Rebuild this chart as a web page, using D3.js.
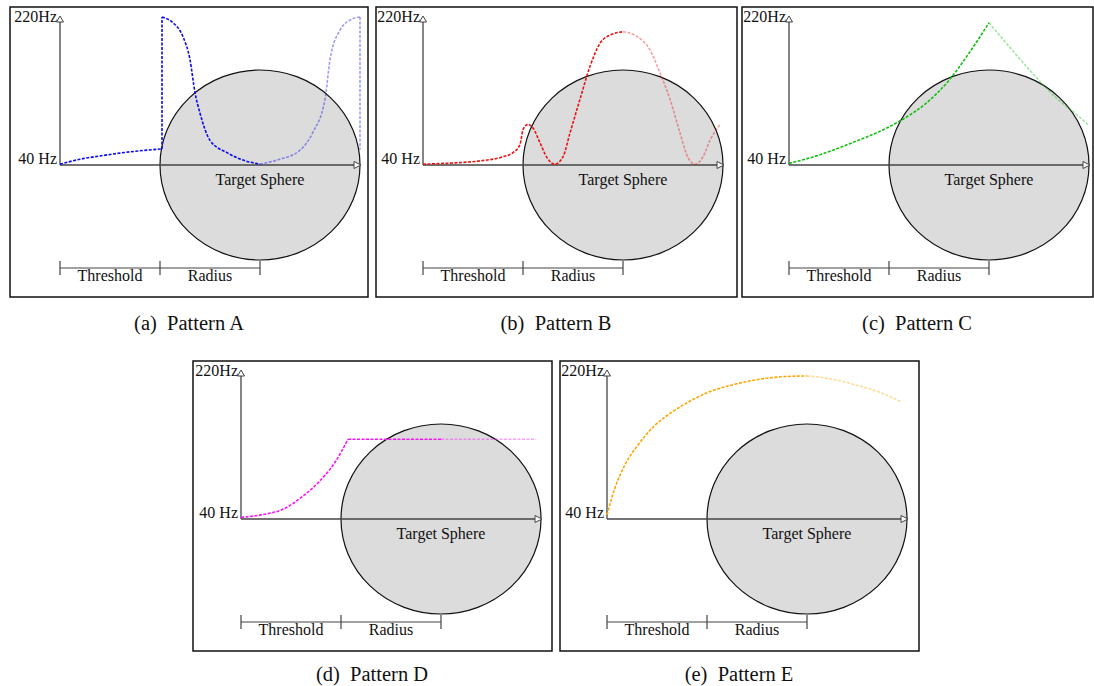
<!DOCTYPE html>
<html>
<head>
<meta charset="utf-8">
<script src="https://cdn.jsdelivr.net/npm/d3@7/dist/d3.min.js"></script>
<style>
  html, body { margin: 0; padding: 0; background: #fff; }
  svg { display: block; }
</style>
</head>
<body>
<svg id="chart" width="1094" height="686"></svg>
<script>
// ---- data: [distance (threshold/radius units), frequency Hz] ----
const freqTicks = ["220Hz", "40 Hz"];
const freqRange = [40, 220];
const rulerLabels = ["Threshold", "Radius"];
const sphereLabel = "Target Sphere";
const captions = ["(a)  Pattern A", "(b)  Pattern B", "(c)  Pattern C", "(d)  Pattern D", "(e)  Pattern E"];
const colors = ["#0a0af0", "#ee1111", "#10c010", "#ff10ff", "#ffa500"];

const patternA = [[0,41],[0.2,47],[0.4,51],[0.7,56],[1.02,59.5],[1.02,220],[1.13,213],[1.23,196],[1.30,168],
  [1.35,128],[1.40,103],[1.50,70],[1.67,55],[1.83,46],[2.0,41],[2.17,46],[2.4,58],[2.53,80],[2.65,120],
  [2.70,168],[2.80,204],[2.93,218],[3.0,220],[3.0,59]];
const patternB = [[0,41],[0.3,42.5],[0.57,45],[0.8,50],[0.9,55],[0.97,65],[1.0,83],[1.05,89.5],[1.10,85],
  [1.17,67],[1.24,49],[1.32,41],[1.40,50],[1.47,79],[1.57,120],[1.67,160],[1.77,188],[1.87,198],[2.0,202],
  [2.13,197],[2.27,180],[2.37,152],[2.47,120],[2.57,79],[2.65,49],[2.72,41],[2.8,50],[2.87,70],[2.97,89]];
const patternC = [[0,42],[0.3,52],[0.63,67],[0.9,80.5],[1.13,95],[1.37,115],[1.6,143],[1.8,176],[2.0,213],
  [2.23,180],[2.47,147],[2.66,123],[2.86,103],[2.99,89]];
const patternD = [[0,42],[0.2,45],[0.44,53],[0.6,66],[0.77,84],[0.94,109],[1.07,137],[2.0,137],[2.95,137]];
const patternE = [[0,45],[0.08,78],[0.18,106],[0.31,130],[0.48,154],[0.65,170],[0.81,182],[1.01,194],
  [1.25,203],[1.48,209],[1.75,213],[2.0,214],[2.21,211],[2.49,203],[2.75,193],[2.95,182]];
const patterns = [patternA, patternB, patternC, patternD, patternE];
const corners = [[], [], [], [1.07], []];   // sharp bends
const fadeFrom = 2.0; // sphere centre: the mirrored (faded) part starts here

// ---- layout ----
const panels = [
  {frame:[10,7,358,290],  ox:60,  oy:165, cap:[189,330]},
  {frame:[376,7,361,290], ox:423, oy:165, cap:[556,330]},
  {frame:[742,7,351,290], ox:789, oy:165, cap:[917,330]},
  {frame:[193,361,359,290], ox:241, oy:519, cap:[372,681]},
  {frame:[560,361,359,290], ox:607, oy:519, cap:[739,681]}
];
const FONT = "'Liberation Serif', 'Times New Roman', serif";

function pieces(pts, cornerXs) {
  const out = [];
  let cur = [pts[0]];
  for (let k = 1; k < pts.length; k++) {
    const p = pts[k], prev = pts[k - 1];
    if (p[0] === prev[0]) {
      out.push({pts: cur, smooth: true});
      out.push({pts: [prev, p], smooth: false});
      cur = [p];
      continue;
    }
    cur.push(p);
    if (cornerXs.includes(p[0])) {
      out.push({pts: cur, smooth: true});
      cur = [p];
    }
  }
  out.push({pts: cur, smooth: true});
  return out.filter(s => s.pts.length > 1);
}

const svg = d3.select("#chart");

function label(g, x, y, txt, size, anchor) {
  return g.append("text").attr("x", x).attr("y", y).attr("text-anchor", anchor)
    .attr("fill", "#111").style("font-family", FONT).style("font-size", size + "px")
    .style("white-space", "pre").text(txt);
}

panels.forEach((p, i) => {
  const g = svg.append("g");
  const x = d3.scaleLinear().domain([0, 3]).range([p.ox, p.ox + 300]);
  const y = d3.scaleLinear().domain(freqRange).range([p.oy, p.oy - 148]);

  g.append("rect").attr("x", p.frame[0]).attr("y", p.frame[1])
    .attr("width", p.frame[2]).attr("height", p.frame[3])
    .attr("fill", "none").attr("stroke", "#111").attr("stroke-width", 1.5);

  g.append("ellipse").attr("cx", x(2)).attr("cy", p.oy)
    .attr("rx", x(3) - x(2)).attr("ry", 95)
    .attr("fill", "#dcdcdc").attr("stroke", "#111").attr("stroke-width", 1.2);

  const axisCol = "#444";
  g.append("line").attr("x1", x(0)).attr("x2", x(0)).attr("y1", p.oy).attr("y2", y(220) + 5)
    .attr("stroke", axisCol).attr("stroke-width", 1.3);
  g.append("path")
    .attr("d", `M${x(0)},${y(220) - 1} L${x(0) - 3.5},${y(220) + 5} L${x(0) + 3.5},${y(220) + 5} Z`)
    .attr("fill", "#fff").attr("stroke", axisCol).attr("stroke-width", 1);
  g.append("line").attr("x1", x(0)).attr("x2", x(3) - 6).attr("y1", p.oy).attr("y2", p.oy)
    .attr("stroke", axisCol).attr("stroke-width", 1.3);
  g.append("path")
    .attr("d", `M${x(3) + 1},${p.oy} L${x(3) - 6},${p.oy - 3.5} L${x(3) - 6},${p.oy + 3.5} Z`)
    .attr("fill", "#fff").attr("stroke", axisCol).attr("stroke-width", 1);

  label(g, x(0) - 3, y(220) + 5, freqTicks[0], 16, "end");
  label(g, x(0) - 3, p.oy - 1, freqTicks[1], 16, "end");
  label(g, x(2), p.oy + 20, sphereLabel, 16, "middle");

  const ry = p.oy + 103;
  g.append("line").attr("x1", x(0)).attr("x2", x(2)).attr("y1", ry).attr("y2", ry)
    .attr("stroke", axisCol).attr("stroke-width", 1.2);
  [0, 1, 2].forEach(t => {
    g.append("line").attr("x1", x(t)).attr("x2", x(t)).attr("y1", ry - 7).attr("y2", ry + 7)
      .attr("stroke", axisCol).attr("stroke-width", 1.2);
  });
  rulerLabels.forEach((lab, k) => label(g, x(k + 0.5), ry + 13, lab, 16, "middle"));

  const smoothLine = d3.line().x(d => x(d[0])).y(d => y(d[1])).curve(d3.curveMonotoneX);
  const straightLine = d3.line().x(d => x(d[0])).y(d => y(d[1]));
  const pts = patterns[i];
  const parts = [
    {pts: pts.filter(d => d[0] >= fadeFrom), op: 0.4},
    {pts: pts.filter(d => d[0] <= fadeFrom), op: 1}
  ];
  parts.forEach(part => {
    const d = pieces(part.pts, corners[i])
      .map(s => (s.smooth ? smoothLine : straightLine)(s.pts)).join("");
    g.append("path").attr("d", d).attr("fill", "none")
      .attr("stroke", colors[i]).attr("stroke-opacity", part.op)
      .attr("stroke-width", 1.6).attr("stroke-dasharray", "3,1.5");
  });

  label(g, p.cap[0], p.cap[1], captions[i], 20.5, "middle");
});
</script>
</body>
</html>
